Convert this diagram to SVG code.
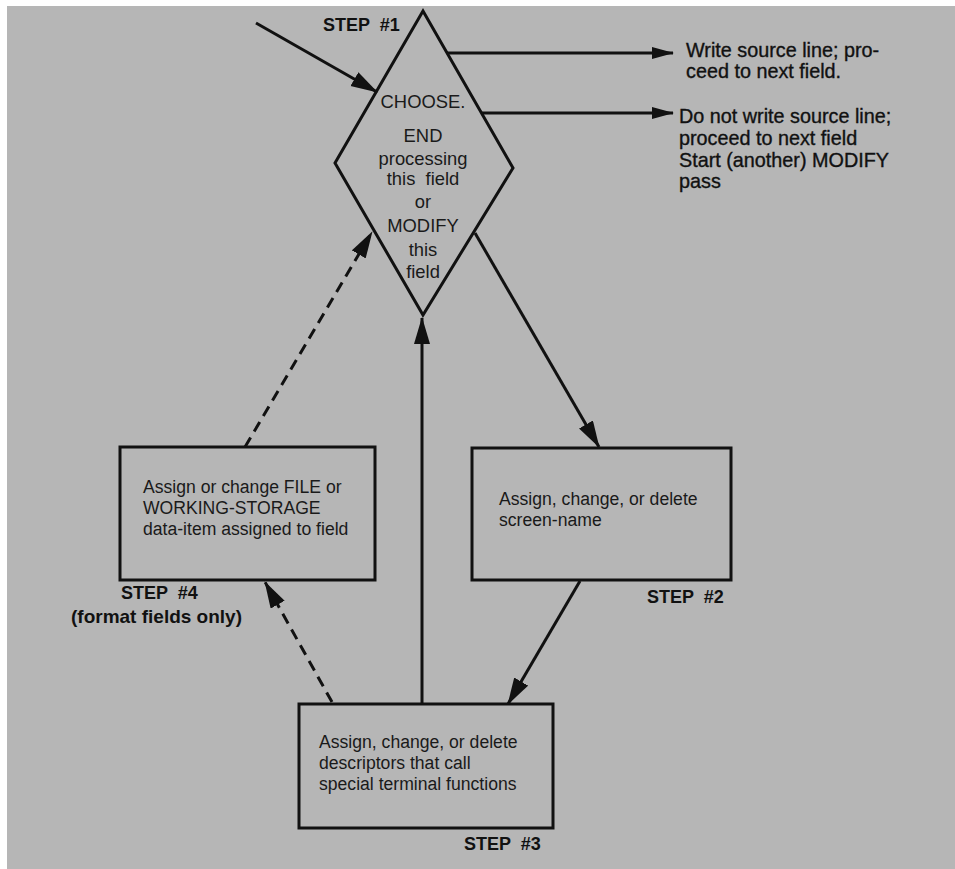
<svg xmlns="http://www.w3.org/2000/svg" width="955" height="869" viewBox="0 0 955 869">
  <style>
    .shape { fill: none; stroke: #111; stroke-width: 3; }
    .line { fill: none; stroke: #111; stroke-width: 3; }
    .dash { fill: none; stroke: #111; stroke-width: 3; stroke-dasharray: 11 7; }
    .txt { font-family: "Liberation Sans", Arial, sans-serif; font-size: 17.6px; fill: #1a1a1a; }
    .mid { text-anchor: middle; font-size: 18.4px; }
    .note { font-family: "Liberation Sans", Arial, sans-serif; font-size: 19.8px; fill: #111; stroke: #111; stroke-width: 0.35; }
    .step { font-family: "Liberation Sans", Arial, sans-serif; font-size: 18px; font-weight: bold; fill: #111; white-space: pre; }
  </style>
  <defs>
    <marker id="head" markerUnits="userSpaceOnUse" markerWidth="28" markerHeight="18" refX="26" refY="8" orient="auto">
      <path d="M0,0 L27,8 L0,16 z" fill="#111"/>
    </marker>
    <marker id="headSmall" markerUnits="userSpaceOnUse" markerWidth="24" markerHeight="14" refX="21" refY="6" orient="auto">
      <path d="M0,0 L22,6 L0,12 z" fill="#111"/>
    </marker>
  </defs>

  <!-- page -->
  <rect x="0" y="0" width="955" height="869" fill="#ffffff"/>
  <rect x="7" y="6" width="948" height="863" fill="#b6b6b6"/>

  <!-- connectors -->
  <g id="connectors">
    <line class="line" x1="256" y1="23" x2="377" y2="92" marker-end="url(#head)"/>
    <line class="line" x1="447" y1="53" x2="673" y2="53" marker-end="url(#headSmall)"/>
    <line class="line" x1="482" y1="113" x2="673" y2="113" marker-end="url(#headSmall)"/>
    <line class="line" x1="475" y1="233" x2="599" y2="447" marker-end="url(#head)"/>
    <line class="line" x1="580" y1="581" x2="508" y2="704" marker-end="url(#head)"/>
    <line class="line" x1="422" y1="704" x2="422" y2="318" marker-end="url(#head)"/>
    <line class="dash" x1="245" y1="447" x2="372" y2="232" marker-end="url(#head)"/>
    <line class="dash" x1="332" y1="702" x2="265" y2="582" marker-end="url(#head)"/>
  </g>

  <!-- step 1: decision -->
  <g id="step1">
    <polygon class="shape" points="423,11 513,168 423,315 335,163"/>
    <text class="step" x="323" y="31">STEP  #1</text>
    <text class="txt mid" x="423" y="108">CHOOSE.</text>
    <text class="txt mid" x="423" y="142">END</text>
    <text class="txt mid" x="423" y="165">processing</text>
    <text class="txt mid" x="423" y="185" xml:space="preserve">this  field</text>
    <text class="txt mid" x="423" y="208">or</text>
    <text class="txt mid" x="423" y="232">MODIFY</text>
    <text class="txt mid" x="423" y="256">this</text>
    <text class="txt mid" x="423" y="278">field</text>
  </g>

  <!-- outcomes -->
  <g id="outcome-write">
    <text class="note" x="686" y="57">Write source line; pro-</text>
    <text class="note" x="686" y="78">ceed to next field.</text>
  </g>
  <g id="outcome-modify">
    <text class="note" x="679" y="123">Do not write source line;</text>
    <text class="note" x="679" y="145">proceed to next field</text>
    <text class="note" x="679" y="167">Start (another) MODIFY</text>
    <text class="note" x="679" y="188">pass</text>
  </g>

  <!-- step 2 -->
  <g id="step2">
    <rect class="shape" x="472" y="448" width="259" height="132"/>
    <text class="txt" x="499" y="505">Assign, change, or delete</text>
    <text class="txt" x="499" y="526">screen-name</text>
    <text class="step" x="647" y="603">STEP  #2</text>
  </g>

  <!-- step 3 -->
  <g id="step3">
    <rect class="shape" x="299" y="704" width="254" height="124"/>
    <text class="txt" x="319" y="748">Assign, change, or delete</text>
    <text class="txt" x="319" y="769">descriptors that call</text>
    <text class="txt" x="319" y="790">special terminal functions</text>
    <text class="step" x="464" y="850">STEP  #3</text>
  </g>

  <!-- step 4 -->
  <g id="step4">
    <rect class="shape" x="120" y="447" width="255" height="133"/>
    <text class="txt" x="143" y="493">Assign or change FILE or</text>
    <text class="txt" x="143" y="514">WORKING-STORAGE</text>
    <text class="txt" x="143" y="535">data-item assigned to field</text>
    <text class="step" x="121" y="599">STEP  #4</text>
    <text class="step" x="71" y="623" style="font-size:19px">(format fields only)</text>
  </g>
</svg>
